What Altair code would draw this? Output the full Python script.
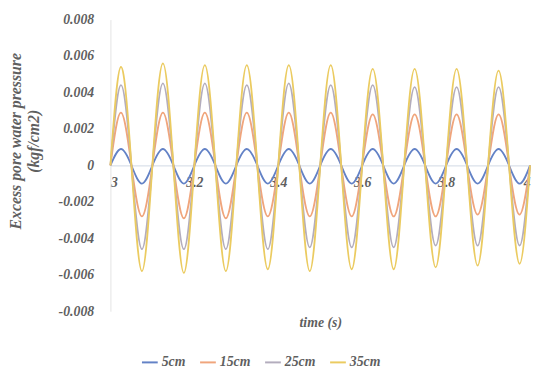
import altair as alt
import pandas as pd

# Sample times (quarter-period readings) in seconds
TIME = [3.0, 3.025, 3.05, 3.075, 3.1, 3.125, 3.15, 3.175, 3.2, 3.225,
        3.25, 3.275, 3.3, 3.325, 3.35, 3.375, 3.4, 3.425, 3.45, 3.475,
        3.5, 3.525, 3.55, 3.575, 3.6, 3.625, 3.65, 3.675, 3.7, 3.725,
        3.75, 3.775, 3.8, 3.825, 3.85, 3.875, 3.9, 3.925, 3.95, 3.975, 4.0]

SERIES = ["5cm", "15cm", "25cm", "35cm"]
COLORS = ["#6382c6", "#f0a57c", "#b3adbd", "#ebcb60"]

# Peak / trough values read for each of the 10 cycles (kgf/cm2)
PEAKS = {
    "5cm":  [0.0009, 0.0009, 0.0009, 0.0009, 0.0009, 0.0009, 0.0009, 0.0009, 0.0009, 0.0009],
    "15cm": [0.0029, 0.0029, 0.0029, 0.0029, 0.0029, 0.0029, 0.0028, 0.0028, 0.0028, 0.0028],
    "25cm": [0.0044, 0.0045, 0.0045, 0.0044, 0.0045, 0.0044, 0.0044, 0.0043, 0.0043, 0.0043],
    "35cm": [0.0054, 0.0056, 0.0055, 0.0055, 0.0055, 0.0055, 0.0053, 0.0053, 0.0053, 0.0052],
}
TROUGHS = {
    "5cm":  [-0.0010, -0.0010, -0.0010, -0.0010, -0.0010, -0.0010, -0.0010, -0.0010, -0.0010, -0.0010],
    "15cm": [-0.0028, -0.0029, -0.0029, -0.0028, -0.0028, -0.0028, -0.0028, -0.0028, -0.0027, -0.0027],
    "25cm": [-0.0046, -0.0046, -0.0046, -0.0046, -0.0045, -0.0045, -0.0045, -0.0044, -0.0044, -0.0044],
    "35cm": [-0.0058, -0.0059, -0.0058, -0.0057, -0.0058, -0.0057, -0.0057, -0.0056, -0.0055, -0.0054],
}

X_TICKS = [3, 3.2, 3.4, 3.6, 3.8, 4]
Y_TICKS = [-0.008, -0.006, -0.004, -0.002, 0, 0.002, 0.004, 0.006, 0.008]

rows = []
for s in SERIES:
    for k, t in enumerate(TIME):
        cycle = min(k // 4, 9)
        phase = k % 4
        if phase == 1:
            v = PEAKS[s][cycle]
        elif phase == 3:
            v = TROUGHS[s][cycle]
        else:
            v = 0.0
        rows.append({"series": s, "time": t, "value": v, "order": SERIES.index(s)})
df = pd.DataFrame(rows)

FONT = "'Liberation Serif', 'Times New Roman', serif"
TXT = "#5f5f5f"

chart = alt.Chart(df).mark_line(interpolate="natural", strokeWidth=1.8).encode(
    x=alt.X("time:Q",
            scale=alt.Scale(domain=[3, 4], nice=False, zero=False),
            axis=alt.Axis(values=X_TICKS, labelExpr="datum.value + ''", grid=False,
                          ticks=False, tickSize=0, offset=-148,
                          domainColor="#d0d8e4", domainWidth=1,
                          labelFont=FONT, labelFontSize=14, labelFontStyle="italic",
                          labelFontWeight="bold", labelColor=TXT, labelPadding=10,
                          title="time (s)", titleFont=FONT, titleFontSize=14,
                          titleFontStyle="italic", titleFontWeight="bold", titleColor=TXT,
                          titleY=153)),
    y=alt.Y("value:Q",
            scale=alt.Scale(domain=[-0.008, 0.008], nice=False),
            axis=alt.Axis(values=Y_TICKS, labelExpr="datum.value + ''", grid=False,
                          ticks=False, tickSize=0,
                          domainColor="#e4e4e4", domainWidth=1,
                          labelFont=FONT, labelFontSize=14, labelFontStyle="italic",
                          labelFontWeight="bold", labelColor=TXT, labelPadding=17,
                          title=["Excess pore water pressure", "(kgf/cm2)"],
                          titleFont=FONT, titleFontSize=16, titleFontStyle="italic",
                          titleFontWeight="bold", titleColor=TXT, titleLineHeight=18,
                          titleAngle=270, titleAlign="center", titleBaseline="top",
                          titleX=-104, titleY=123)),
    color=alt.Color("series:N",
                    scale=alt.Scale(domain=SERIES, range=COLORS),
                    legend=alt.Legend(title=None, orient="none", legendX=31, legendY=339,
                                      direction="horizontal", columns=4,
                                      symbolType="stroke", symbolSize=256,
                                      symbolStrokeWidth=2, labelOffset=3,
                                      columnPadding=10,
                                      labelFont=FONT, labelFontSize=14,
                                      labelFontStyle="italic", labelFontWeight="bold",
                                      labelColor=TXT)),
    order=alt.Order("order:Q"),
).properties(
    width=426, height=296,
    autosize=alt.AutoSizeParams(type="none"),
    padding={"left": 104, "top": 9, "right": 4, "bottom": 62},
).configure_view(stroke=None)

chart.save("out.html", embed_options={"renderer": "svg", "actions": False})
